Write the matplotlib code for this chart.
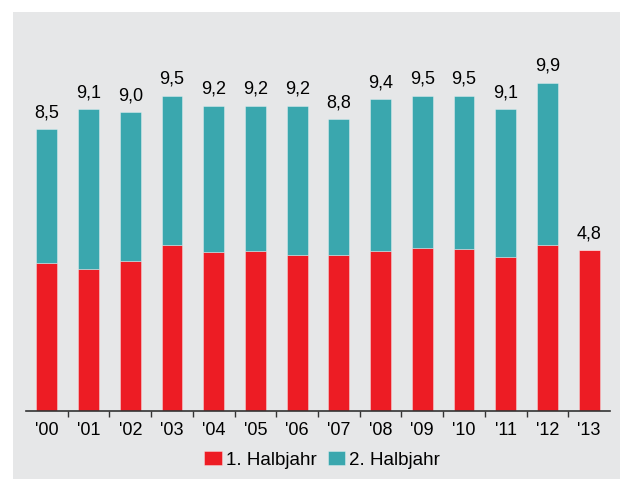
import matplotlib
matplotlib.use("Agg")
import matplotlib.pyplot as plt
from matplotlib.patches import Rectangle
import numpy as np

years = ["'00", "'01", "'02", "'03", "'04", "'05", "'06", "'07", "'08", "'09", "'10", "'11", "'12", "'13"]
first_half = [4.46, 4.28, 4.52, 5.0, 4.79, 4.82, 4.70, 4.70, 4.82, 4.91, 4.88, 4.64, 5.0, 4.85]
totals = [8.5, 9.1, 9.0, 9.5, 9.2, 9.2, 9.2, 8.8, 9.4, 9.5, 9.5, 9.1, 9.9, 4.85]
labels = ["8,5", "9,1", "9,0", "9,5", "9,2", "9,2", "9,2", "8,8", "9,4", "9,5", "9,5", "9,1", "9,9", "4,8"]
second_half = [t - f if i < 13 else 0.0 for i, (t, f) in enumerate(zip(totals, first_half))]

RED = "#ed1c24"
TEAL = "#3aa7ae"
BG = "#e6e7e8"

plt.rcParams['font.family'] = ['Liberation Sans', 'DejaVu Sans']

fig = plt.figure(figsize=(6.2, 4.79), dpi=100)
fig.patch.set_facecolor("white")
fig.patches.append(Rectangle((13/620, 0), 1 - 13/620, 1 - 12/479, transform=fig.transFigure,
                             facecolor=BG, edgecolor="none", zorder=-10))

ax = fig.add_axes([26/620, 68/479, 584/620, 365/479])
ax.set_facecolor("none")
x = np.arange(len(years))
ax.bar(x, first_half, width=0.5, color=RED, edgecolor=(1, 1, 1, 0.35), linewidth=0.7, label="1. Halbjahr")
ax.bar(x, second_half, width=0.5, bottom=first_half, color=TEAL, edgecolor=(1, 1, 1, 0.35),
       linewidth=0.7, label="2. Halbjahr")

for xi, t, lab in zip(x, totals, labels):
    ax.annotate(lab, (xi, t), xytext=(0, 8.5), textcoords="offset points",
                ha="center", va="baseline", fontsize=13, color="#000000")

ax.set_xlim(-0.5, len(years) - 0.5)
ax.set_ylim(0, 11)
ax.set_yticks([])
ax.set_xticks(x)
ax.set_xticklabels(years, fontsize=13, color="#000000")
ax.tick_params(axis="x", which="major", length=0, pad=8)
ax.set_xticks(np.arange(0.5, len(years) - 1, 1), minor=True)
ax.tick_params(axis="x", which="minor", length=4, width=1, color="#333333", direction="out")
for s in ["top", "right", "left"]:
    ax.spines[s].set_visible(False)
ax.spines["bottom"].set_color("#333333")
ax.spines["bottom"].set_linewidth(1.2)

fig.legend(loc="center", bbox_to_anchor=(322/620, 19/479), ncol=2, frameon=False,
           fontsize=13.5, handlelength=0.95, handleheight=0.72, handletextpad=0.2,
           columnspacing=0.6, borderpad=0)

fig.savefig("out.png", dpi=100, facecolor=fig.get_facecolor())
